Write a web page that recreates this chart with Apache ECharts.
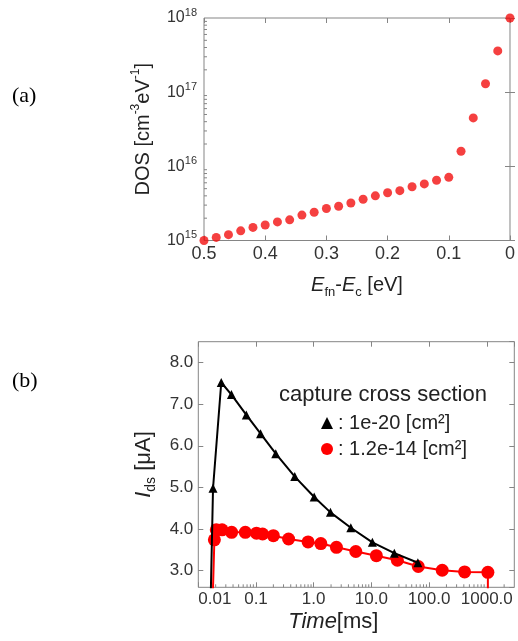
<!DOCTYPE html>
<html>
<head>
<meta charset="utf-8">
<script src="https://cdn.jsdelivr.net/npm/echarts@6/dist/echarts.min.js"></script>
<style>
  html, body { margin: 0; padding: 0; background: #fff; }
  #chart { width: 518px; height: 641px; }
</style>
</head>
<body>
<div id="chart"></div>
<script>
// (a) DOS vs Efn-Ec
const energy = [0.5, 0.48, 0.46, 0.44, 0.42, 0.4, 0.38, 0.36, 0.34, 0.32, 0.3, 0.28, 0.26,
  0.24, 0.22, 0.2, 0.18, 0.16, 0.14, 0.12, 0.1, 0.08, 0.06, 0.04, 0.02, 0];
const dos = [1.0e15, 1.1e15, 1.2e15, 1.35e15, 1.5e15, 1.62e15, 1.78e15, 1.9e15, 2.2e15, 2.4e15,
  2.7e15, 2.9e15, 3.2e15, 3.6e15, 4.0e15, 4.4e15, 4.7e15, 5.3e15, 5.8e15, 6.5e15, 7.1e15,
  1.6e16, 4.5e16, 1.3e17, 3.6e17, 1.0e18];
const dosDecades = [1e15, 1e16, 1e17];
const minorSteps = [2, 3, 4, 5, 6, 7, 8, 9];

// (b) Ids vs time, two capture cross sections
const timeBlack = [0.0162, 0.018, 0.025, 0.0375, 0.068, 0.12, 0.22, 0.47, 1.02, 1.95, 4.4, 10.4, 25, 64];
const idsBlack = [2.0, 4.98, 7.52, 7.23, 6.74, 6.29, 5.81, 5.26, 4.77, 4.40, 4.03, 3.68, 3.42, 3.19];
const timeRed = [0.0175, 0.019, 0.0205, 0.0258, 0.0378, 0.0653, 0.102, 0.13, 0.2, 0.367, 0.8,
  1.33, 2.48, 5.37, 12.2, 28.2, 65, 169, 413, 1045, 1045];
const idsRed = [2.0, 3.74, 3.98, 3.98, 3.92, 3.92, 3.90, 3.88, 3.84, 3.76, 3.69, 3.65, 3.56,
  3.46, 3.36, 3.25, 3.10, 3.01, 2.97, 2.96, 2.0];
const timeDecades = [0.01, 0.1, 1, 10, 100, 1000];
const nameBlack = ': 1e-20 [cm\u00b2]';
const nameRed = ': 1.2e-14 [cm\u00b2]';

const FONT = 'Liberation Sans';
const BOX = '#858585';
const idsMin = 2.6, idsMax = 8.5, tMin = 0.01, tMax = 3000;

const dosMinor = [];
dosDecades.forEach(d => minorSteps.forEach(m => dosMinor.push([0.5, d * m])));
const timeMinor = [];
timeDecades.forEach(d => minorSteps.forEach(m => { if (d * m < tMax) timeMinor.push([d * m, idsMin]); }));

function tickRender(dx, dy, len) {
  return function (params, api) {
    const p = api.coord([api.value(0), api.value(1)]);
    return {
      type: 'line',
      shape: { x1: p[0], y1: p[1], x2: p[0] + dx * len, y2: p[1] + dy * len },
      style: { stroke: BOX, lineWidth: 1 }
    };
  };
}

function lineData(ts, vs) {
  return ts.map((t, i) => vs[i] < idsMin ? { value: [t, vs[i]], symbol: 'none' } : [t, vs[i]]);
}

const tick = { show: true, inside: true, length: 5, lineStyle: { color: BOX } };
const noLine = { show: false };
const labelA = { color: '#333', fontFamily: FONT };

const chart = echarts.init(document.getElementById('chart'));
chart.setOption({
  animation: false,
  textStyle: { fontFamily: FONT },
  title: [
    { text: '(a)', left: 12, top: 85, padding: 0,
      textStyle: { fontFamily: 'Liberation Serif', fontSize: 22, fontWeight: 'normal', color: '#000' } },
    { text: '(b)', left: 12, top: 370, padding: 0,
      textStyle: { fontFamily: 'Liberation Serif', fontSize: 22, fontWeight: 'normal', color: '#000' } },
    { text: 'capture cross section', left: 279, top: 384, padding: 0,
      textStyle: { fontFamily: FONT, fontSize: 22, fontWeight: 'normal', color: '#222' } }
  ],
  legend: {
    left: 321, top: 413, orient: 'vertical', itemGap: 6, itemWidth: 12, itemHeight: 12,
    padding: 0, selectedMode: false,
    textStyle: { fontFamily: FONT, fontSize: 20, color: '#222' },
    data: [
      { name: nameBlack, icon: 'triangle', itemStyle: { color: '#000' } },
      { name: nameRed, icon: 'circle', itemStyle: { color: '#f00' } }
    ]
  },
  grid: [
    { left: 204, top: 18, width: 308.5, height: 222.5, show: true, borderColor: BOX, borderWidth: 1 },
    { left: 198.3, top: 341.7, width: 316, height: 245.6, show: true, borderColor: BOX, borderWidth: 1 }
  ],
  xAxis: [
    { type: 'value', gridIndex: 0, inverse: true, min: 0, max: 0.5, interval: 0.1,
      axisLine: noLine, axisTick: tick, splitLine: noLine,
      axisLabel: Object.assign({ fontSize: 18, margin: 5 }, labelA),
      name: '{i|E}{sub|fn}-{i|E}{sub|c} [eV]', nameLocation: 'middle', nameGap: 32,
      nameTextStyle: { fontSize: 20, color: '#222',
        rich: { i: { fontSize: 20, fontStyle: 'italic', lineHeight: 26 },
                sub: { fontSize: 13, verticalAlign: 'bottom', lineHeight: 14 } } } },
    { type: 'value', gridIndex: 0, position: 'top', inverse: true, min: 0, max: 0.5, interval: 0.1,
      axisLine: noLine, axisTick: tick, splitLine: noLine, axisLabel: { show: false } },
    { type: 'log', gridIndex: 1, logBase: 10, min: tMin, max: tMax,
      axisLine: noLine, axisTick: tick, splitLine: noLine,
      axisLabel: Object.assign({ fontSize: 17, margin: 4, showMaxLabel: false, alignMinLabel: 'left',
        formatter: v => { const e = Math.round(Math.log10(v)); return e < 0 ? Math.pow(10, e).toFixed(-e) : Math.pow(10, e).toFixed(1); } }, labelA),
      name: '{i|Time}[ms]', nameLocation: 'middle', nameGap: 24,
      nameTextStyle: { fontSize: 22, color: '#222', padding: [0, 46, 0, 0],
        rich: { i: { fontSize: 22, fontStyle: 'italic' } } } },
    { type: 'log', gridIndex: 1, logBase: 10, min: tMin, max: tMax, position: 'top',
      axisLine: noLine, axisTick: tick, splitLine: noLine, axisLabel: { show: false } }
  ],
  yAxis: [
    { type: 'log', gridIndex: 0, logBase: 10, min: 1e15, max: 1e18,
      axisLine: noLine, axisTick: tick, splitLine: noLine,
      axisLabel: Object.assign({ margin: 7,
        formatter: v => '{b|10}{s|' + Math.round(Math.log10(v)) + '}',
        rich: { b: { fontSize: 16, lineHeight: 22, color: '#333' },
                s: { fontSize: 11, verticalAlign: 'top', lineHeight: 12, color: '#333' } } }, labelA),
      name: 'DOS [cm{sup|-3}eV{sup|-1}]', nameLocation: 'middle', nameGap: 48,
      nameTextStyle: { fontSize: 20, color: '#222', lineHeight: 26,
        rich: { sup: { fontSize: 12, verticalAlign: 'top', lineHeight: 14 } } } },
    { type: 'log', gridIndex: 0, logBase: 10, min: 1e15, max: 1e18, position: 'right',
      axisLine: noLine, axisTick: tick, splitLine: noLine, axisLabel: { show: false } },
    { type: 'value', gridIndex: 1, min: idsMin, max: idsMax, splitNumber: 5,
      axisLine: noLine, axisTick: tick, splitLine: noLine,
      axisLabel: Object.assign({ fontSize: 17, margin: 5, showMinLabel: false, showMaxLabel: false,
        formatter: v => v.toFixed(1) }, labelA),
      name: '{i|I}{sub|ds} [\u03bcA]', nameLocation: 'middle', nameGap: 40,
      nameTextStyle: { fontSize: 22, color: '#222',
        rich: { i: { fontSize: 22, fontStyle: 'italic', lineHeight: 28 },
                sub: { fontSize: 14, verticalAlign: 'bottom', lineHeight: 15 } } } },
    { type: 'value', gridIndex: 1, min: idsMin, max: idsMax, splitNumber: 5, position: 'right',
      axisLine: noLine, axisTick: tick, splitLine: noLine, axisLabel: { show: false } }
  ],
  series: [
    { type: 'custom', xAxisIndex: 0, yAxisIndex: 0, silent: true, data: dosMinor,
      renderItem: tickRender(1, 0, 3) },
    { type: 'custom', xAxisIndex: 2, yAxisIndex: 2, silent: true, data: timeMinor,
      renderItem: tickRender(0, -1, 3) },
    { type: 'scatter', xAxisIndex: 0, yAxisIndex: 0, clip: false,
      symbolSize: 9, itemStyle: { color: '#f21010' },
      data: energy.map((e, i) => [e, dos[i]]) },
    { name: nameRed, type: 'line', xAxisIndex: 2, yAxisIndex: 2, z: 3,
      symbol: 'circle', symbolSize: 13, itemStyle: { color: '#f00' },
      lineStyle: { color: '#f00', width: 2 },
      data: lineData(timeRed, idsRed) },
    { name: nameBlack, type: 'line', xAxisIndex: 2, yAxisIndex: 2, z: 4,
      symbol: 'triangle', symbolSize: 9, itemStyle: { color: '#000' },
      lineStyle: { color: '#000', width: 2 },
      data: lineData(timeBlack, idsBlack) }
  ]
});
</script>
</body>
</html>
